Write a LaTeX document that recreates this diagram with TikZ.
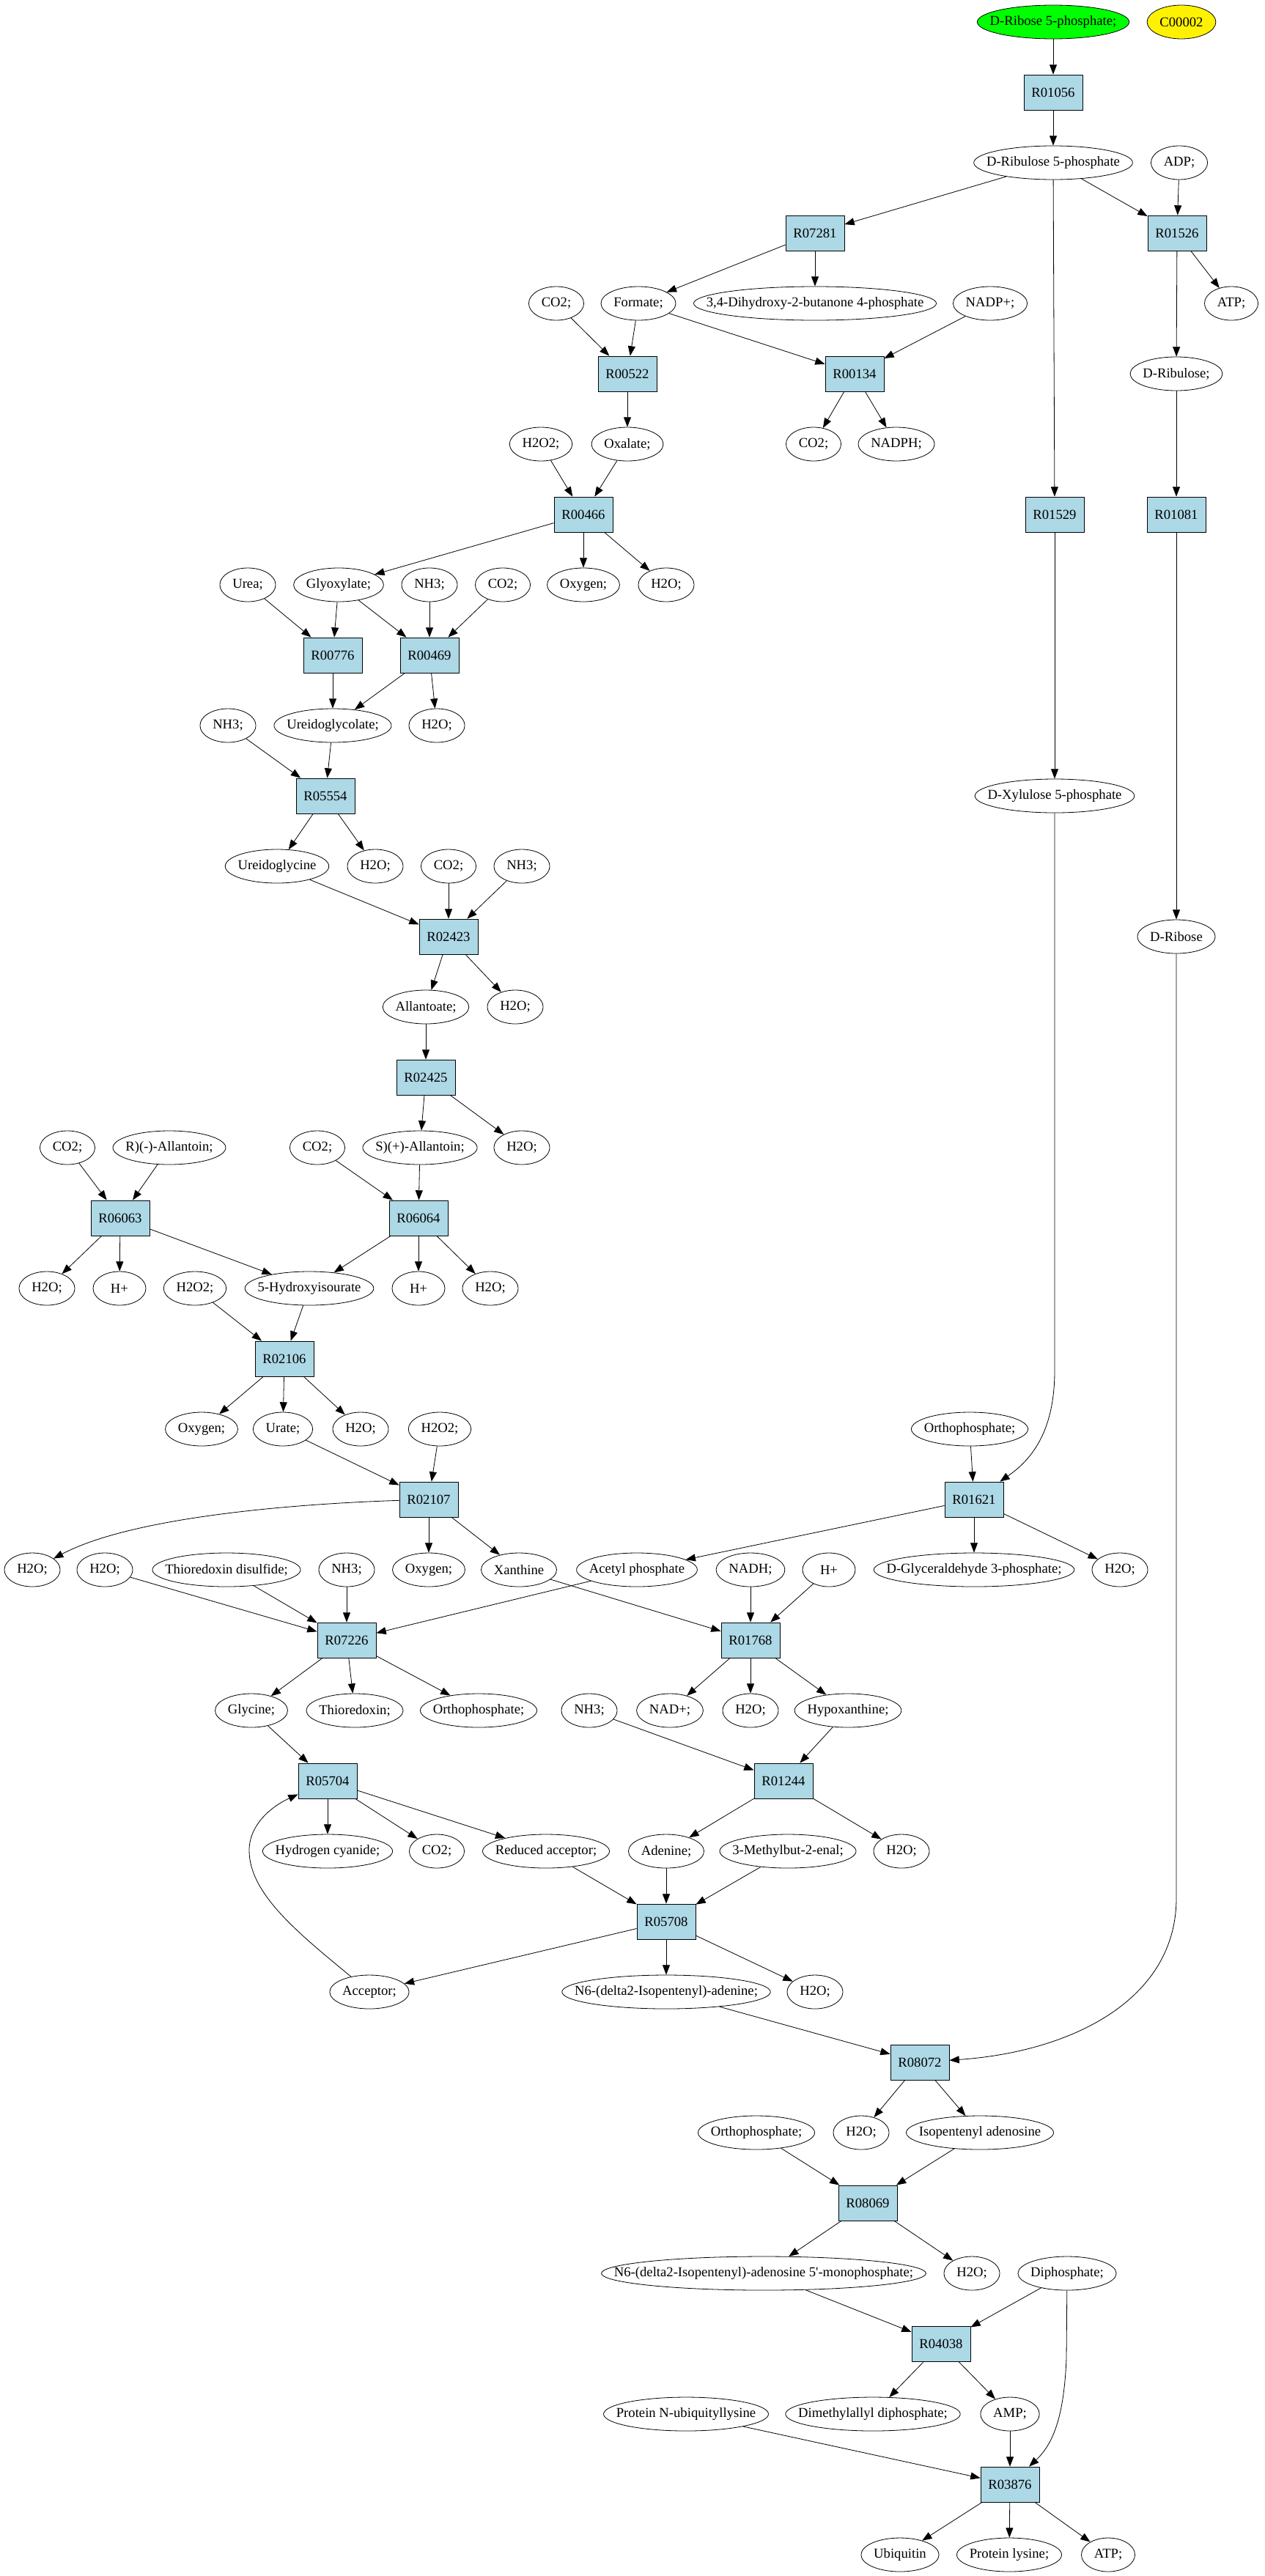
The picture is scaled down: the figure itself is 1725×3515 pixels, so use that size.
\documentclass[tikz,border=0pt]{standalone}
\usepackage{fontspec}
\setmainfont{Liberation Serif}[Ligatures=TeXOff]
\usetikzlibrary{shapes.geometric,arrows.meta}
\definecolor{rxblue}{HTML}{ADD8E6}
\newdimen\mytw
\newbox\mybx
\newcommand\fnt{\fontsize{14}{16}\selectfont}
% label box whose width makes the ellipse text width + 26pt (min 54pt)
\newcommand\ebox[1]{%
  \setbox\mybx=\hbox{#1}%
  \mytw=\wd\mybx \advance\mytw by 26pt
  \ifdim\mytw<54pt \mytw=54pt \fi
  \mytw=0.70711\mytw
  \hbox to \mytw{\hss#1\hss}}
\newcommand\cmp[4][]{\node[cmpd,#1] (#2) at #3 {\ebox{#4}};}
\newcommand\rx[2]{\node[rxn] (#1) at #2 {#1};}
\tikzset{
  cmpd/.style={ellipse, draw, line width=0.6pt, inner sep=0pt, minimum height=34.5pt, font=\fnt},
  rxn/.style={rectangle, draw, fill=rxblue, line width=0.6pt, inner sep=0pt, minimum width=60pt, minimum height=36pt, font=\fnt},
  arr/.style={-{Triangle[length=10pt,width=7.5pt]}, line width=0.6pt},
}
\begin{document}
\begin{tikzpicture}[x=0.75pt,y=-0.75pt]
\useasboundingbox (0,0) rectangle (1725,3515);
% rank 0-3
\cmp[fill=green]{drib5p}{(1437,30)}{D-Ribose 5-phosphate;}
\cmp[fill=yellow]{c00002}{(1612,30)}{C00002}
\rx{R01056}{(1437,126)}
\cmp{drul5p}{(1437,222)}{D-Ribulose 5-phosphate}
\cmp{adp}{(1609,222)}{ADP;}
\rx{R07281}{(1112,318)}
\rx{R01526}{(1606,318)}
% rank 4
\cmp{co2a}{(759,414)}{CO2;}
\cmp{formate}{(871,414)}{Formate;}
\cmp{dhbp}{(1112,414)}{3,4-Dihydroxy-2-butanone 4-phosphate}
\cmp{nadpp}{(1351,414)}{NADP+;}
\cmp{atpa}{(1680,414)}{ATP;}
% rank 5
\rx{R00522}{(856,510)}
\rx{R00134}{(1166,510)}
\cmp{drul}{(1605,510)}{D-Ribulose;}
% rank 6
\cmp{h2o2a}{(738,606)}{H2O2;}
\cmp{oxalate}{(856,606)}{Oxalate;}
\cmp{co2b}{(1110,606)}{CO2;}
\cmp{nadph}{(1223,606)}{NADPH;}
% rank 7
\rx{R00466}{(796,702)}
\rx{R01529}{(1439,702)}
\rx{R01081}{(1605,702)}
% rank 8
\cmp{urea}{(338,798)}{Urea;}
\cmp{glyox}{(462,798)}{Glyoxylate;}
\cmp{nh3a}{(586,798)}{NH3;}
\cmp{co2c}{(686,798)}{CO2;}
\cmp{oxya}{(796,798)}{Oxygen;}
\cmp{h2oa}{(909,798)}{H2O;}
% rank 9
\rx{R00776}{(454,894)}
\rx{R00469}{(586,894)}
% rank 10
\cmp{nh3b}{(311,990)}{NH3;}
\cmp{ugc}{(454,990)}{Ureidoglycolate;}
\cmp{h2ob}{(596,990)}{H2O;}
% rank 11
\rx{R05554}{(444,1086)}
\cmp{dxu5p}{(1439,1086)}{D-Xylulose 5-phosphate}
% rank 12
\cmp{ugly}{(378,1182)}{Ureidoglycine}
\cmp{h2oc}{(512,1182)}{H2O;}
\cmp{co2d}{(612,1182)}{CO2;}
\cmp{nh3c}{(712,1182)}{NH3;}
% rank 13
\rx{R02423}{(612,1278)}
\cmp{drib}{(1605,1278)}{D-Ribose}
% rank 14
\cmp{allan}{(581,1374)}{Allantoate;}
\cmp{h2od}{(703,1374)}{H2O;}
% rank 15
\rx{R02425}{(581,1470)}
% rank 16
\cmp{co2e}{(92,1566)}{CO2;}
\cmp{rall}{(231,1566)}{R)(-)-Allantoin;}
\cmp{co2f}{(433,1566)}{CO2;}
\cmp{sall}{(573,1566)}{S)(+)-Allantoin;}
\cmp{h2oe}{(712,1566)}{H2O;}
% rank 17
\rx{R06063}{(164,1662)}
\rx{R06064}{(571,1662)}
% rank 18
\cmp{h2of}{(64,1758)}{H2O;}
\cmp{hpa}{(163,1758)}{H+}
\cmp{h2o2b}{(266,1758)}{H2O2;}
\cmp{hiu}{(422,1758)}{5-Hydroxyisourate}
\cmp{hpb}{(571,1758)}{H+}
\cmp{h2og}{(669,1758)}{H2O;}
% rank 19
\rx{R02106}{(388,1854)}
% rank 20
\cmp{oxyb}{(275,1950)}{Oxygen;}
\cmp{urate}{(386,1950)}{Urate;}
\cmp{h2oh}{(492,1950)}{H2O;}
\cmp{h2o2c}{(600,1950)}{H2O2;}
\cmp{ortha}{(1323,1950)}{Orthophosphate;}
% rank 21
\rx{R02107}{(585,2046)}
\rx{R01621}{(1329,2046)}
% rank 22
\cmp{h2oi}{(44,2142)}{H2O;}
\cmp{h2oj}{(143,2142)}{H2O;}
\cmp{tds}{(309,2142)}{Thioredoxin disulfide;}
\cmp{nh3d}{(473,2142)}{NH3;}
\cmp{oxyc}{(585,2142)}{Oxygen;}
\cmp{xan}{(708,2142)}{Xanthine}
\cmp{acp}{(869,2142)}{Acetyl phosphate}
\cmp{nadh}{(1024,2142)}{NADH;}
\cmp{hpc}{(1131,2142)}{H+}
\cmp{gap}{(1329,2142)}{D-Glyceraldehyde 3-phosphate;}
\cmp{h2ok}{(1528,2142)}{H2O;}
% rank 23
\rx{R07226}{(473,2238)}
\rx{R01768}{(1024,2238)}
% rank 24
\cmp{gly}{(343,2334)}{Glycine;}
\cmp{thio}{(484,2334)}{Thioredoxin;}
\cmp{orthb}{(653,2334)}{Orthophosphate;}
\cmp{nh3e}{(804,2334)}{NH3;}
\cmp{nadp}{(914,2334)}{NAD+;}
\cmp{h2ol}{(1024,2334)}{H2O;}
\cmp{hypx}{(1157,2334)}{Hypoxanthine;}
% rank 25
\rx{R05704}{(447,2430)}
\rx{R01244}{(1069,2430)}
% rank 26
\cmp{hcn}{(447,2526)}{Hydrogen cyanide;}
\cmp{co2g}{(596,2526)}{CO2;}
\cmp{redacc}{(745,2526)}{Reduced acceptor;}
\cmp{aden}{(909,2526)}{Adenine;}
\cmp{mbe}{(1075,2526)}{3-Methylbut-2-enal;}
\cmp{h2om}{(1230,2526)}{H2O;}
% rank 27
\rx{R05708}{(909,2622)}
% rank 28
\cmp{acc}{(504,2718)}{Acceptor;}
\cmp{n6ad}{(909,2718)}{N6-(delta2-Isopentenyl)-adenine;}
\cmp{h2on}{(1112,2718)}{H2O;}
% rank 29
\rx{R08072}{(1255,2814)}
% rank 30
\cmp{orthc}{(1032,2910)}{Orthophosphate;}
\cmp{h2oo}{(1175,2910)}{H2O;}
\cmp{ipa}{(1337,2910)}{Isopentenyl adenosine}
% rank 31
\rx{R08069}{(1184,3006)}
% rank 32
\cmp{n6amp}{(1042,3102)}{N6-(delta2-Isopentenyl)-adenosine 5'-monophosphate;}
\cmp{h2op}{(1326,3102)}{H2O;}
\cmp{diph}{(1456,3102)}{Diphosphate;}
% rank 33
\rx{R04038}{(1284,3198)}
% rank 34
\cmp{pnul}{(936,3294)}{Protein N-ubiquityllysine}
\cmp{dmapp}{(1191,3294)}{Dimethylallyl diphosphate;}
\cmp{amp}{(1378,3294)}{AMP;}
% rank 35
\rx{R03876}{(1378,3390)}
% rank 36
\cmp{ubq}{(1228,3486)}{Ubiquitin}
\cmp{plys}{(1377,3486)}{Protein lysine;}
\cmp{atpb}{(1512,3486)}{ATP;}
% straight edges
\foreach \a/\b in {drib5p/R01056, R01056/drul5p, drul5p/R07281, drul5p/R01529, drul5p/R01526,
  adp/R01526, R07281/formate, R07281/dhbp, R01526/atpa, R01526/drul, co2a/R00522,
  formate/R00522, formate/R00134, nadpp/R00134, R00522/oxalate, R00134/co2b, R00134/nadph,
  drul/R01081, h2o2a/R00466, oxalate/R00466, R00466/glyox, R00466/oxya, R00466/h2oa,
  R01529/dxu5p, R01081/drib, urea/R00776, glyox/R00776, glyox/R00469, nh3a/R00469,
  co2c/R00469, R00776/ugc, R00469/ugc, R00469/h2ob, nh3b/R05554, ugc/R05554, R05554/ugly,
  R05554/h2oc, ugly/R02423, co2d/R02423, nh3c/R02423, R02423/allan, R02423/h2od,
  allan/R02425, R02425/sall, R02425/h2oe, co2e/R06063, rall/R06063, co2f/R06064,
  sall/R06064, R06063/h2of, R06063/hpa, R06063/hiu, R06064/hiu, R06064/hpb, R06064/h2og,
  h2o2b/R02106, hiu/R02106, R02106/oxyb, R02106/urate, R02106/h2oh, urate/R02107,
  h2o2c/R02107, ortha/R01621, R02107/oxyc, R02107/xan, R01621/acp, R01621/gap,
  R01621/h2ok, h2oj/R07226, tds/R07226, nh3d/R07226, acp/R07226, xan/R01768,
  nadh/R01768, hpc/R01768, R07226/gly, R07226/thio, R07226/orthb, R01768/nadp,
  R01768/h2ol, R01768/hypx, gly/R05704, nh3e/R01244, hypx/R01244, R05704/hcn,
  R05704/co2g, R05704/redacc, R01244/aden, R01244/h2om, redacc/R05708, aden/R05708,
  mbe/R05708, R05708/acc, R05708/n6ad, R05708/h2on, n6ad/R08072, R08072/h2oo,
  R08072/ipa, orthc/R08069, ipa/R08069, R08069/n6amp, R08069/h2op, n6amp/R04038,
  diph/R04038, R04038/dmapp, R04038/amp, pnul/R03876, amp/R03876, R03876/ubq,
  R03876/plys, R03876/atpb}
  \draw[arr] (\a) -- (\b);
% curved edges
\draw[arr] (dxu5p) -- (1439,1870) .. controls (1439,1950) and (1410,1990) .. (R01621);
\draw[arr] (R02107) .. controls (400,2052) and (180,2070) .. (h2oi);
\draw[arr] (acc) .. controls (410,2640) and (340,2585) .. (340,2525) .. controls (340,2490) and (370,2465) .. (R05704);
\draw[arr] (drib) -- (1605,2590) .. controls (1605,2730) and (1460,2800) .. (R08072);
\draw[arr] (diph) -- (1455,3218) .. controls (1452,3290) and (1440,3332) .. (R03876);
\end{tikzpicture}
\end{document}
